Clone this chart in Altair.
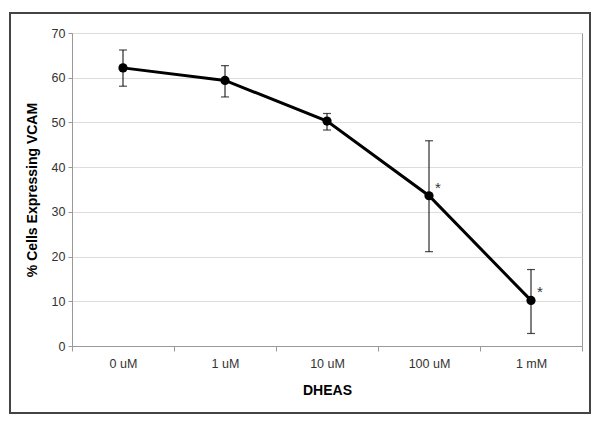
import altair as alt
import pandas as pd

doses = ["0 uM", "1 uM", "10 uM", "100 uM", "1 mM"]
means = [62.2, 59.4, 50.3, 33.6, 10.2]
upper = [66.2, 62.7, 52.0, 45.9, 17.1]
lower = [58.1, 55.7, 48.3, 21.1, 2.8]
marks = ["", "", "", "*", "*"]

df = pd.DataFrame({"dose": doses, "mean": means, "hi": upper, "lo": lower, "sig": marks})

x = alt.X("dose:N", sort=doses, title="DHEAS",
          scale=alt.Scale(paddingInner=0, paddingOuter=0),
          axis=alt.Axis(labelAngle=0, tickBand="extent", tickSize=5, tickColor="#999",
                        domainColor="#999", labelFontSize=12.5, labelColor="#333",
                        labelFont="Liberation Sans", titleFont="Liberation Sans",
                        titleFontSize=14, titleFontWeight="bold", titleColor="#000",
                        labelPadding=6, titlePadding=14))
y_scale = alt.Scale(domain=[0, 70])
y = alt.Y("mean:Q", scale=y_scale, title="% Cells Expressing VCAM",
          axis=alt.Axis(values=[0, 10, 20, 30, 40, 50, 60, 70], tickSize=4, tickColor="#999",
                        domainColor="#999", gridColor="#ddd", labelFontSize=12.5,
                        labelColor="#333", labelFont="Liberation Sans",
                        titleFont="Liberation Sans", titleFontSize=14,
                        titleFontWeight="bold", titleColor="#000", titlePadding=12,
                        labelPadding=3))

base = alt.Chart(df)

frame = base.mark_rect(fill=None, stroke="#444", strokeWidth=2, clip=False).encode(
    x=alt.value(-62), x2=alt.value(518), y=alt.value(-20), y2=alt.value(380)
)

rules = base.mark_rule(color="#000", strokeWidth=1).encode(
    x=x, y=alt.Y("lo:Q", scale=y_scale), y2="hi:Q")
caps_hi = base.mark_tick(color="#000", size=8, thickness=1.2).encode(
    x=x, y=alt.Y("hi:Q", scale=y_scale))
caps_lo = base.mark_tick(color="#000", size=8, thickness=1.2).encode(
    x=x, y=alt.Y("lo:Q", scale=y_scale))
line = base.mark_line(color="#000", strokeWidth=3).encode(x=x, y=y)
pts = base.mark_circle(color="#000", size=85, opacity=1).encode(x=x, y=y)
stars = base.mark_text(align="left", baseline="middle", dx=6, dy=-8, fontSize=15,
                       font="Liberation Sans", color="#333").encode(
    x=x, y=alt.Y("mean:Q", scale=y_scale), text="sig:N")

chart = alt.layer(frame, rules, caps_hi, caps_lo, line, pts, stars).properties(
    width=510, height=313,
    autosize=alt.AutoSizeParams(type="none"),
    padding={"left": 64, "top": 25, "right": 10, "bottom": 68},
    background="white",
).configure_view(stroke="#999", strokeWidth=1)

chart.save("out.html", embed_options={"renderer": "svg", "actions": False})
